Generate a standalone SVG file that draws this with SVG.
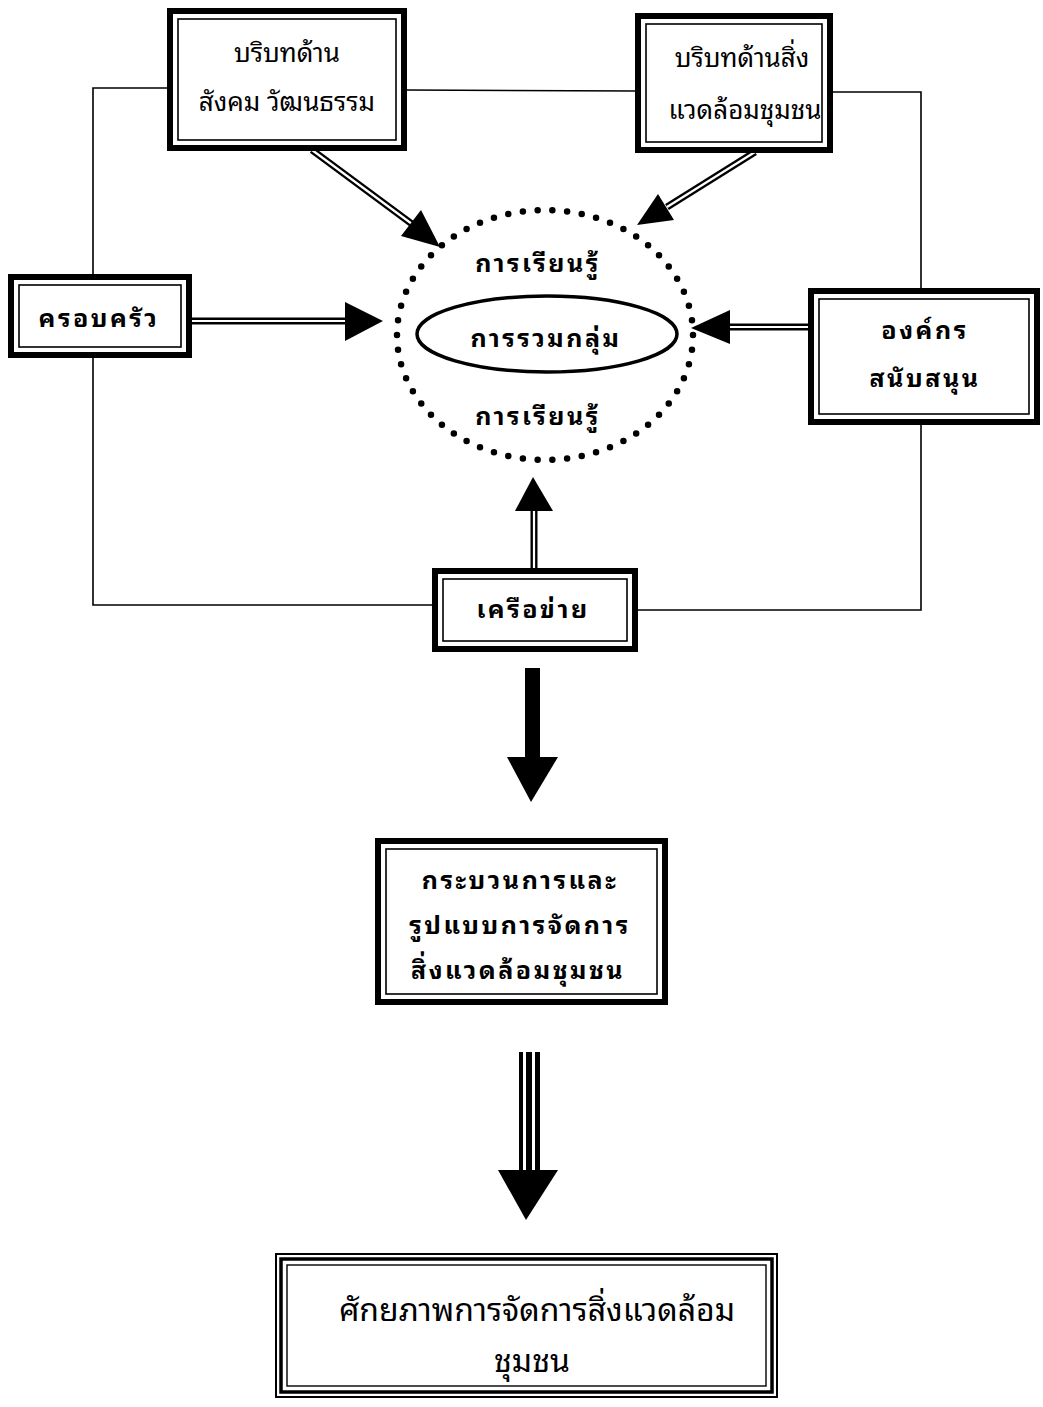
<svg xmlns="http://www.w3.org/2000/svg" width="1043" height="1407" viewBox="0 0 1043 1407">
<style>
.t{font-family:"Noto Sans Thai Looped","Loma","Garuda","Kinnari","Norasi","Noto Sans Thai","Tahoma","Noto Sans",sans-serif;fill:#000;text-anchor:middle}
.n{font-size:26px;font-weight:normal}
.b{font-size:25px;font-weight:bold;letter-spacing:2.5px}
.thin{fill:none;stroke:#000;stroke-width:1.6}
.outer{fill:#fff;stroke:#000;stroke-width:6}
.inner{fill:none;stroke:#000;stroke-width:1.6}
.head{fill:#000}
</style>
<rect width="1043" height="1407" fill="#fff"/>
<g id="connectors">
  <polyline class="thin" points="167,88 93,88 93,605 432,605"/>
  <line class="thin" x1="405" y1="90" x2="636" y2="91"/>
  <polyline class="thin" points="832,92 921,92 921,610 638,610"/>
  <line x1="312" y1="150" x2="412" y2="224" stroke="#000" stroke-width="7"/>
  <line x1="312" y1="150" x2="412" y2="224" stroke="#fff" stroke-width="2.2"/>
  <polygon class="head" points="440,247 401,236 421,210"/>
  <line x1="755" y1="152" x2="667" y2="207" stroke="#000" stroke-width="7"/>
  <line x1="755" y1="152" x2="667" y2="207" stroke="#fff" stroke-width="2.2"/>
  <polygon class="head" points="637,225 658,194 674,220"/>
  <line x1="190" y1="321" x2="348" y2="321" stroke="#000" stroke-width="7"/>
  <line x1="190" y1="321" x2="348" y2="321" stroke="#fff" stroke-width="2.2"/>
  <polygon class="head" points="383,321 345,302 345,341"/>
  <line x1="808" y1="327" x2="728" y2="327" stroke="#000" stroke-width="7"/>
  <line x1="808" y1="327" x2="728" y2="327" stroke="#fff" stroke-width="2.2"/>
  <polygon class="head" points="691,328 730,310 730,344"/>
  <line x1="534" y1="568" x2="534" y2="508" stroke="#000" stroke-width="7"/>
  <line x1="534" y1="568" x2="534" y2="508" stroke="#fff" stroke-width="2.2"/>
  <polygon class="head" points="533,477 515,511 553,511"/>
  <rect x="525" y="668" width="15" height="92" fill="#000"/>
  <polygon class="head" points="507,757 558,757 531,802"/>
  <rect x="519" y="1052" width="21" height="120" fill="#000"/>
  <rect x="523" y="1052" width="3" height="120" fill="#fff"/>
  <rect x="532" y="1052" width="3" height="120" fill="#fff"/>
  <polygon class="head" points="498,1170 558,1170 526,1220"/>
</g>
<g id="circle-learning">
  <ellipse cx="545" cy="335" rx="148" ry="125" fill="none" stroke="#000" stroke-width="6.5" stroke-linecap="round" stroke-dasharray="0 1" pathLength="58"/>
  <text class="t b" x="538" y="272">การเรียนรู้</text>
  <text class="t b" x="538" y="425">การเรียนรู้</text>
</g>
<g id="group-gathering">
  <ellipse cx="547" cy="334" rx="130" ry="38" fill="#fff" stroke="#000" stroke-width="3.5"/>
  <text class="t b" x="546" y="347">การรวมกลุ่ม</text>
</g>
<g id="box-social">
  <rect class="outer" x="170" y="11" width="234" height="137"/>
  <rect class="inner" x="178" y="19" width="218" height="121"/>
  <text class="t n" x="287" y="62">บริบทด้าน</text>
  <text class="t n" x="287" y="111">สังคม วัฒนธรรม</text>
</g>
<g id="box-env">
  <rect class="outer" x="638" y="16" width="192" height="134"/>
  <rect class="inner" x="646" y="24" width="176" height="118"/>
  <text class="t n" x="742" y="67">บริบทด้านสิ่ง</text>
  <text class="t n" x="745" y="119">แวดล้อมชุมชน</text>
</g>
<g id="box-family">
  <rect class="outer" x="11" y="277" width="178" height="78"/>
  <rect class="inner" x="19" y="285" width="162" height="62"/>
  <text class="t b" x="99" y="327">ครอบครัว</text>
</g>
<g id="box-support">
  <rect class="outer" x="811" y="291" width="226" height="131"/>
  <rect class="inner" x="819" y="299" width="210" height="115"/>
  <text class="t b" x="925" y="339">องค์กร</text>
  <text class="t b" x="925" y="387">สนับสนุน</text>
</g>
<g id="box-network">
  <rect class="outer" x="435" y="571" width="200" height="78"/>
  <rect class="inner" x="443" y="579" width="184" height="62"/>
  <text class="t b" x="533" y="618">เครือข่าย</text>
</g>
<g id="box-process">
  <rect class="outer" x="378" y="841" width="287" height="161"/>
  <rect class="inner" x="386" y="849" width="271" height="145"/>
  <text class="t b" x="520" y="889">กระบวนการและ</text>
  <text class="t b" x="520" y="934">รูปแบบการจัดการ</text>
  <text class="t b" x="518" y="979">สิ่งแวดล้อมชุมชน</text>
</g>
<g id="box-potential">
  <rect x="276" y="1254" width="501" height="143" fill="#fff" stroke="#000" stroke-width="2"/>
  <rect x="281" y="1259" width="491" height="133" fill="none" stroke="#000" stroke-width="3.5"/>
  <rect x="287" y="1265" width="479" height="121" fill="none" stroke="#000" stroke-width="1.4"/>
  <text class="t" font-size="32" x="537" y="1321">ศักยภาพการจัดการสิ่งแวดล้อม</text>
  <text class="t" font-size="32" x="532" y="1372">ชุมชน</text>
</g>
</svg>
